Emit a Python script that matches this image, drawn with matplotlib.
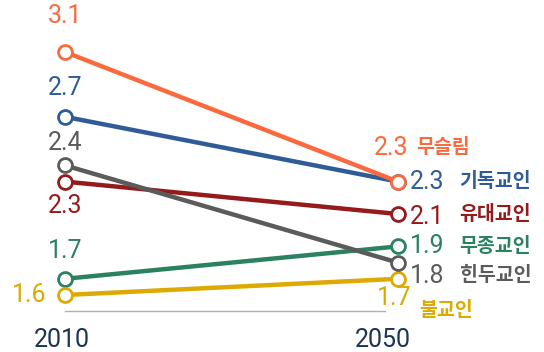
import matplotlib
matplotlib.use("Agg")
import matplotlib.pyplot as plt

years = ["2010", "2050"]
religions = ["기독교인", "유대교인", "무종교인", "불교인", "힌두교인", "무슬림"]
v2010 = [2.7, 2.3, 1.7, 1.6, 2.4, 3.1]
v2050 = [2.3, 2.1, 1.9, 1.7, 1.8, 2.3]
colors = ["#2f5b97", "#951a1c", "#2b8260", "#dcaa00", "#5b5b5b", "#fb6a3f"]

NUM = "Roboto"
KR = ["Noto Sans CJK KR", "DejaVu Sans"]

fig = plt.figure(figsize=(5.44, 3.52), dpi=100)
ax = fig.add_axes([0, 0, 1, 1])
ax.set_xlim(-65 / 333, -65 / 333 + 544 / 333)
top = 3.1 + 52 / 162
ax.set_ylim(top - 352 / 162, top)
ax.axis("off")

# baseline
ax.plot([0, 0.96], [1.5, 1.5], color="#b0b0b0", lw=1.0, zorder=1)

for i, (a, b, c) in enumerate(zip(v2010, v2050, colors)):
    ax.plot([0, 1], [a, b], color=c, lw=3.2, solid_capstyle="butt", zorder=2 + i,
            marker="o", ms=10, mfc="white", mec=c, mew=2.0)

fs = 18
kfs = 14
kw = "bold"
# 2010 labels
ax.text(0, 3.1 + 0.22, f"{v2010[5]}", color=colors[5], fontsize=fs, family=NUM, ha="center", va="center")
ax.text(0, 2.7 + 0.18, f"{v2010[0]}", color=colors[0], fontsize=fs, family=NUM, ha="center", va="center")
ax.text(0, 2.4 + 0.14, f"{v2010[4]}", color=colors[4], fontsize=fs, family=NUM, ha="center", va="center")
ax.text(0, 2.3 - 0.15, f"{v2010[1]}", color=colors[1], fontsize=fs, family=NUM, ha="center", va="center")
ax.text(0, 1.7 + 0.17, f"{v2010[2]}", color=colors[2], fontsize=fs, family=NUM, ha="center", va="center")
ax.text(-0.055, 1.6, f"{v2010[3]}", color=colors[3], fontsize=fs, family=NUM, ha="right", va="center")

# 2050 labels
xn = 1.035
xk = 1.185
ax.text(1.03, 2.3 + 0.205, f"{v2050[5]}", color=colors[5], fontsize=fs, family=NUM, ha="right", va="center")
ax.text(1.056, 2.3 + 0.21, religions[5], color=colors[5], fontsize=kfs, family=KR, weight=kw, ha="left", va="center")
ax.text(xn, 2.3, f"{v2050[0]}", color=colors[0], fontsize=fs, family=NUM, ha="left", va="center")
ax.text(xk, 2.3, religions[0], color=colors[0], fontsize=kfs, family=KR, weight=kw, ha="left", va="center")
ax.text(xn, 2.1 - 0.02, f"{v2050[1]}", color=colors[1], fontsize=fs, family=NUM, ha="left", va="center")
ax.text(xk, 2.1, religions[1], color=colors[1], fontsize=kfs, family=KR, weight=kw, ha="left", va="center")
ax.text(xn, 1.9, f"{v2050[2]}", color=colors[2], fontsize=fs, family=NUM, ha="left", va="center")
ax.text(xk, 1.9, religions[2], color=colors[2], fontsize=kfs, family=KR, weight=kw, ha="left", va="center")
ax.text(xn, 1.8 - 0.08, f"{v2050[4]}", color=colors[4], fontsize=fs, family=NUM, ha="left", va="center")
ax.text(xk, 1.8 - 0.08, religions[4], color=colors[4], fontsize=kfs, family=KR, weight=kw, ha="left", va="center")
ax.text(1.04, 1.7 - 0.12, f"{v2050[3]}", color=colors[3], fontsize=fs, family=NUM, ha="right", va="center")
ax.text(1.065, 1.7 - 0.195, religions[3], color=colors[3], fontsize=kfs, family=KR, weight=kw, ha="left", va="center")

# year labels
ax.text(-0.01, 1.5 - 0.18, years[0], color="#1c3550", fontsize=fs, family=NUM, ha="center", va="center")
ax.text(0.955, 1.5 - 0.18, years[1], color="#1c3550", fontsize=fs, family=NUM, ha="center", va="center")

fig.savefig("out.png", dpi=100)
